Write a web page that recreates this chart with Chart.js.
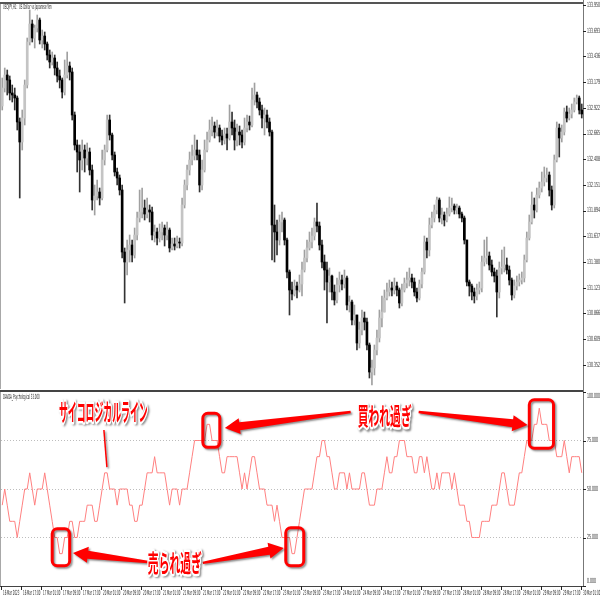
<!DOCTYPE html>
<html>
<head>
<meta charset="utf-8">
<script src="https://cdn.jsdelivr.net/npm/chart.js@4.4.0/dist/chart.umd.min.js"></script>
<style>
html, body { margin: 0; padding: 0; background: #fff; }
#wrap { position: relative; width: 600px; height: 600px; overflow: hidden; background: #fff; }
#price { position: absolute; left: 0; top: 0; }
#psy { position: absolute; left: 0; top: 390px; }
</style>
</head>
<body>
<div id="wrap">
    <canvas id="price" width="600" height="390"></canvas>
    <canvas id="psy" width="600" height="210"></canvas>
</div>
<script>
// USDJPY H1, one entry per bar; open of each bar = previous close
var firstOpen = 132.94
var closes = [133.12,133.25,133.20,133.07,133.05,133.02,132.78,132.58,132.82,133.15,
133.58,133.76,133.62,133.72,133.80,133.60,133.64,133.56,133.45,133.38,
133.42,133.32,133.24,133.20,133.08,133.25,133.34,133.28,132.85,132.55,
132.48,132.40,132.50,132.42,132.48,132.30,132.00,132.04,132.08,132.02,
132.40,132.50,132.80,132.65,132.45,132.28,132.22,132.10,131.48,131.38,
131.50,131.55,131.45,131.65,131.82,131.88,131.92,131.86,131.90,131.88,
131.65,131.68,131.62,131.68,131.72,131.65,131.70,131.52,131.56,131.54,
131.58,131.57,131.95,132.15,132.30,132.40,132.44,132.50,132.45,132.15,
132.30,132.50,132.60,132.70,132.74,132.68,132.72,132.64,132.60,132.66,
132.62,132.78,132.72,132.60,132.68,132.65,132.58,132.72,132.78,132.75,
133.00,133.05,132.98,132.90,132.82,132.85,132.78,132.68,131.75,131.68,
131.60,131.78,131.80,131.60,131.28,131.10,131.06,131.14,131.10,131.16,
131.30,131.42,131.52,131.58,131.64,131.78,131.74,131.55,131.38,131.30,
131.18,131.24,131.08,131.00,131.15,131.20,131.16,131.22,130.95,130.98,
130.80,130.85,130.57,130.70,130.82,130.78,130.55,130.28,130.32,130.50,
130.62,130.82,130.88,131.02,131.08,131.12,131.10,131.14,131.10,130.97,
131.10,131.17,131.20,131.22,131.18,131.08,131.02,131.16,131.28,131.58,
131.50,131.75,131.82,131.90,132.00,131.82,131.85,131.80,131.86,131.92,
131.94,131.90,131.92,131.86,131.82,131.60,131.18,131.14,131.08,131.04,
131.10,131.12,131.38,131.42,131.44,131.35,131.28,131.24,131.08,131.32,
131.32,131.35,131.30,131.20,131.05,131.14,131.18,131.20,131.22,131.40,
131.62,131.78,131.95,131.90,132.05,132.12,132.18,132.22,132.25,132.10,
131.95,132.40,132.72,132.62,132.68,132.88,132.82,132.86,132.90,132.98,
133.02,132.90,132.86]
var highs = [133.22,133.32,133.30,133.24,133.15,133.12,133.04,132.82,132.90,133.20,
133.62,133.90,133.80,133.75,133.85,133.82,133.70,133.68,133.58,133.50,
133.48,133.45,133.38,133.30,133.22,133.40,133.48,133.38,133.32,132.88,
132.60,132.55,132.60,132.55,132.57,132.52,132.35,132.15,132.20,132.12,
132.50,132.55,132.85,132.85,132.67,132.48,132.32,132.25,132.15,131.52,
131.60,131.65,131.60,131.72,131.88,132.10,132.12,132.00,132.02,131.95,
131.93,131.75,131.72,131.76,131.78,131.75,131.78,131.72,131.62,131.62,
131.64,131.62,132.02,132.20,132.35,132.48,132.55,132.65,132.60,132.50,
132.40,132.60,132.68,132.80,132.83,132.78,132.80,132.75,132.70,132.72,
132.72,132.95,132.88,132.80,132.76,132.74,132.70,132.82,132.85,132.84,
133.12,133.17,133.08,133.02,132.95,132.92,132.90,132.82,132.70,131.95,
131.80,131.85,131.88,131.82,131.62,131.30,131.18,131.20,131.18,131.25,
131.38,131.50,131.60,131.68,131.72,131.82,131.97,131.78,131.60,131.45,
131.38,131.32,131.25,131.15,131.22,131.28,131.25,131.30,131.24,131.04,
131.00,130.95,130.85,130.78,130.90,130.88,130.82,130.57,130.40,130.55,
130.70,130.90,131.04,131.10,131.17,131.20,131.18,131.22,131.18,131.12,
131.16,131.22,131.28,131.32,131.26,131.22,131.12,131.20,131.32,131.64,
131.62,131.82,131.88,131.95,132.03,132.02,131.92,131.88,131.92,132.03,
132.02,131.96,131.96,131.94,131.88,131.84,131.60,131.20,131.16,131.12,
131.16,131.18,131.44,131.60,131.63,131.48,131.40,131.32,131.30,131.38,
131.50,131.53,131.42,131.34,131.22,131.20,131.24,131.26,131.28,131.45,
131.68,131.85,132.08,132.02,132.12,132.18,132.28,132.33,132.32,132.28,
132.14,132.45,132.78,132.76,132.75,132.92,132.94,132.92,132.96,133.02,
133.05,133.04,132.96]
var lows = [132.90,133.08,133.05,133.00,132.98,132.90,132.70,132.02,132.50,132.75,
133.12,133.55,133.58,133.52,133.68,133.56,133.52,133.50,133.40,133.32,
133.35,133.25,133.18,133.12,133.02,133.05,133.22,133.20,132.80,132.50,
132.28,132.08,132.30,132.28,132.35,132.25,131.90,131.85,132.00,131.95,
132.00,132.35,132.48,132.60,132.40,132.24,132.15,132.05,131.42,130.97,
131.25,131.38,131.38,131.42,131.60,131.78,131.82,131.80,131.82,131.78,
131.60,131.58,131.55,131.58,131.60,131.54,131.60,131.48,131.50,131.50,
131.52,131.52,131.54,131.92,132.10,132.25,132.35,132.40,132.40,132.08,
132.10,132.28,132.48,132.58,132.64,132.62,132.64,132.58,132.55,132.56,
132.50,132.60,132.65,132.50,132.54,132.55,132.52,132.55,132.68,132.70,
132.73,132.95,132.92,132.85,132.72,132.65,132.72,132.64,131.40,131.38,
131.45,131.55,131.68,131.55,131.22,130.85,131.00,131.04,131.02,131.08,
131.04,131.28,131.38,131.50,131.52,131.60,131.68,131.50,131.32,131.10,
130.77,131.08,131.00,130.95,130.97,131.08,131.10,131.12,130.90,130.88,
130.75,130.75,130.50,130.52,130.65,130.70,130.50,130.22,130.15,130.25,
130.45,130.58,130.73,130.94,131.00,131.04,131.04,131.06,131.04,130.92,
130.94,131.08,131.12,131.14,131.12,131.04,130.98,131.00,131.12,131.26,
131.42,131.44,131.72,131.78,131.86,131.78,131.76,131.74,131.78,131.84,
131.88,131.86,131.86,131.82,131.78,131.56,131.14,131.04,131.00,130.97,
131.00,131.06,131.08,131.34,131.36,131.30,131.24,131.18,130.83,131.02,
131.26,131.28,131.26,131.15,131.00,131.02,131.10,131.14,131.16,131.18,
131.38,131.60,131.76,131.82,131.88,132.02,132.08,132.14,132.18,132.04,
131.90,131.92,132.38,132.43,132.58,132.65,132.78,132.80,132.82,132.88,
132.96,132.86,132.82]

// psychological line: rising bars out of the last 12
var psyCount = [5,6,5,4,4,4,3,4,5,6,
6,7,6,5,6,6,6,7,6,5,
4,3,3,2,2,3,3,4,4,3,
3,4,4,4,5,5,5,4,4,5,
6,7,7,6,6,6,5,6,6,6,
6,5,5,4,4,5,5,6,7,7,
7,8,7,7,7,7,6,5,6,6,
6,5,6,6,6,7,8,9,9,9,
9,9,10,10,9,9,9,8,7,7,
8,8,8,8,8,7,6,7,6,7,
8,8,7,6,6,6,5,5,5,4,
5,4,3,3,3,3,2,2,3,4,
5,6,6,6,6,7,8,8,9,9,
8,8,7,6,6,7,7,7,6,7,
6,6,6,6,7,7,6,5,5,5,
6,6,6,7,8,7,7,8,8,9,
9,9,8,8,8,7,7,8,8,7,
8,7,6,6,7,6,7,7,7,7,
6,7,6,5,5,5,4,4,3,3,
3,3,4,4,4,4,5,5,5,6,
7,7,6,5,5,5,6,7,7,8,
9,9,9,10,10,11,10,10,10,9,
9,9,8,8,8,9,8,7,8,8,
8,8,7]
var psyPeriod = 12

var priceTicks = [133.950,133.693,133.436,133.179,132.922,132.665,132.408,132.151,131.894,131.637,131.380,131.123,130.866,130.609,130.352]
var psyTicks = [100, 75, 50, 25, 0]
var timeLabels = ['16 Mar 2023','16 Mar 17:00','17 Mar 01:00','17 Mar 09:00','17 Mar 17:00','20 Mar 01:00','20 Mar 09:00','20 Mar 17:00',
    '21 Mar 01:00','21 Mar 09:00','21 Mar 17:00','22 Mar 01:00','22 Mar 09:00','22 Mar 17:00','23 Mar 01:00','23 Mar 09:00',
    '23 Mar 17:00','24 Mar 01:00','24 Mar 09:00','24 Mar 17:00','27 Mar 01:00','27 Mar 09:00','27 Mar 17:00','28 Mar 01:00',
    '28 Mar 09:00','28 Mar 17:00','29 Mar 01:00','29 Mar 09:00','29 Mar 17:00','30 Mar 01:00']
var barsPerLabel = 8

// callouts, in bar index / indicator value units
var boxes = [[80.3, 87.1, 89, 71.5], [211, 220.7, 96, 71], [20, 27, 29.5, 10.5], [113.5, 120.7, 30, 10.5]]
var arrows = [[139.5, 89.7, 89.1, 81.4], [166.7, 89.7, 210.3, 83], [58.3, 12.4, 28.3, 17], [80.3, 11.9, 112.7, 19.6]]
var notes = [['サイコロジカルライン', 22.7, 90, 0.37], ['買われ過ぎ', 142.3, 87.5, 0.45], ['売られ過ぎ', 58.3, 12, 0.45]]
var pointer = [40.7, 80.4, 41.9, 61.3]

var n = closes.length
var opens = closes.map((c, i) => i == 0 ? firstOpen : closes[i - 1])
var rising = closes.map((c, i) => c >= opens[i])

function tiny(ctx, s, x, y, sx, align) {
    ctx.save()
    ctx.translate(x, y)
    ctx.scale(sx, 1)
    ctx.textAlign = align || 'left'
    ctx.textBaseline = 'middle'
    ctx.fillText(s, 0, 0)
    ctx.restore()
}

function fixWidth(scale) { scale.width = 17 }

function xOpts() {
    return { type: 'linear', min: -0.5, max: n - 0.5, offset: false, display: false }
}

var topFrame = {
    id: 'topFrame',
    afterDraw(chart) {
        var ctx = chart.ctx, a = chart.chartArea, y = chart.scales.y
        ctx.save()
        ctx.fillStyle = '#555'
        ctx.fillRect(0, 2, a.right, 2)
        ctx.fillStyle = '#a8a8a8'
        ctx.fillRect(0, a.top, 1, a.bottom - a.top)
        ctx.fillStyle = '#777'
        ctx.fillRect(a.right, 0, 1, chart.height)
        ctx.fillStyle = '#222'
        ctx.font = '7px "DejaVu Sans"'
        priceTicks.forEach(v => {
            var py = y.getPixelForValue(v)
            ctx.fillRect(a.right, Math.round(py), 3, 1)
            tiny(ctx, v.toFixed(3), a.right + 4, py, 0.45)
        })
        tiny(ctx, 'USDJPY,H1:  US Dollar vs Japanese Yen', 3, 7, 0.36)
        ctx.restore()
    }
}

new Chart(document.getElementById('price'), {
    type: 'bar',
    data: {
        datasets: [
            {
                label: 'body',
                order: 0,
                grouped: false,
                barThickness: 2,
                minBarLength: 1,
                data: closes.map((c, i) => ({ x: i, y: [opens[i], c] })),
                backgroundColor: rising.map(r => r ? '#c4c4c4' : '#000'),
                borderWidth: 0
            },
            {
                label: 'wick',
                order: 1,
                grouped: false,
                barThickness: 1,
                data: highs.map((h, i) => ({ x: i, y: [Math.min(lows[i], opens[i], closes[i]), Math.max(h, opens[i], closes[i])] })),
                backgroundColor: rising.map(r => r ? '#a0a0a0' : '#333'),
                borderWidth: 0
            }
        ]
    },
    options: {
        responsive: false,
        animation: false,
        events: [],
        layout: { padding: { top: 4, left: 1, bottom: 1, right: 0 } },
        plugins: { legend: { display: false }, tooltip: { enabled: false } },
        scales: {
            x: xOpts(),
            y: {
                position: 'right',
                min: 130.11,
                max: 133.96,
                afterFit: fixWidth,
                grid: { display: false },
                border: { display: false },
                ticks: { display: false }
            }
        }
    },
    plugins: [topFrame]
})

function arrowShape(ctx, x1, y1, x2, y2) {
    var dx = x2 - x1, dy = y2 - y1
    var len = Math.sqrt(dx * dx + dy * dy)
    var head = 15
    ctx.save()
    ctx.translate(x1, y1)
    ctx.rotate(Math.atan2(dy, dx))
    ctx.beginPath()
    ctx.moveTo(0, -1.2)
    ctx.lineTo(len - head, -4)
    ctx.lineTo(len - head, -8)
    ctx.lineTo(len, 0)
    ctx.lineTo(len - head, 8)
    ctx.lineTo(len - head, 4)
    ctx.lineTo(0, 1.2)
    ctx.closePath()
    ctx.fill()
    ctx.restore()
}

var bottomFrame = {
    id: 'bottomFrame',
    afterDraw(chart) {
        var ctx = chart.ctx, a = chart.chartArea, x = chart.scales.x, y = chart.scales.y
        ctx.save()
        ctx.fillStyle = '#444'
        ctx.fillRect(0, 0, a.right, 2)
        ctx.fillRect(0, a.bottom, a.right + 1, 1)
        ctx.fillStyle = '#a8a8a8'
        ctx.fillRect(0, a.top, 1, a.bottom - a.top)
        ctx.fillStyle = '#777'
        ctx.fillRect(a.right, 0, 1, a.bottom)
        ctx.fillStyle = '#222'
        ctx.font = '7px "DejaVu Sans"'
        psyTicks.forEach(v => {
            var py = y.getPixelForValue(v)
            ctx.fillRect(a.right, Math.round(py), 3, 1)
            var ty = Math.min(Math.max(py, a.top + 4), a.bottom - 5)
            tiny(ctx, v.toFixed(3), a.right + 4, ty, 0.45)
        })
        timeLabels.forEach((s, k) => {
            var px = Math.round(x.getPixelForValue(k * barsPerLabel - 0.5))
            ctx.fillRect(px, a.bottom, 1, 4)
            tiny(ctx, s, px + 2, a.bottom + 7, 0.37)
        })
        tiny(ctx, 'DAVDA_Psychological 33.000', 3, 7, 0.36)

        // callouts
        var X = v => x.getPixelForValue(v), Y = v => y.getPixelForValue(v)
        ctx.shadowColor = 'rgba(0,0,0,0.45)'
        ctx.shadowBlur = 2
        ctx.shadowOffsetX = 1.5
        ctx.shadowOffsetY = 1.5
        ctx.strokeStyle = '#ff0000'
        ctx.lineWidth = 3
        boxes.forEach(b => {
            ctx.beginPath()
            ctx.roundRect(X(b[0]), Y(b[2]), X(b[1]) - X(b[0]), Y(b[3]) - Y(b[2]), 5)
            ctx.stroke()
        })
        ctx.fillStyle = '#ff0000'
        arrows.forEach(r => arrowShape(ctx, X(r[0]), Y(r[1]), X(r[2]), Y(r[3])))
        ctx.lineWidth = 1.5
        ctx.beginPath()
        ctx.moveTo(X(pointer[0]), Y(pointer[1]))
        ctx.lineTo(X(pointer[2]), Y(pointer[3]))
        ctx.stroke()

        ctx.font = 'bold 24px "Noto Sans CJK JP"'
        notes.forEach(t => {
            ctx.save()
            ctx.translate(X(t[1]), Y(t[2]))
            ctx.scale(t[3], 1)
            ctx.textAlign = 'left'
            ctx.textBaseline = 'middle'
            ctx.strokeStyle = '#fff'
            ctx.lineWidth = 5
            ctx.lineJoin = 'round'
            ctx.strokeText(t[0], 0, 0)
            ctx.shadowColor = 'transparent'
            ctx.fillStyle = '#ff0000'
            ctx.fillText(t[0], 0, 0)
            ctx.restore()
        })
        ctx.restore()
    }
}

new Chart(document.getElementById('psy'), {
    type: 'line',
    data: {
        datasets: [
            {
                label: 'Psychological',
                data: psyCount.map((c, i) => ({ x: i, y: c * 100 / psyPeriod })),
                borderColor: '#ff8080',
                borderWidth: 1,
                pointRadius: 0,
                tension: 0
            }
        ]
    },
    options: {
        responsive: false,
        animation: false,
        events: [],
        layout: { padding: { top: 2, left: 1, bottom: 14, right: 0 } },
        plugins: { legend: { display: false }, tooltip: { enabled: false } },
        scales: {
            x: xOpts(),
            y: {
                position: 'right',
                min: 0,
                max: 100,
                afterFit: fixWidth,
                afterBuildTicks(scale) { scale.ticks = psyTicks.map(v => ({ value: v })) },
                grid: {
                    color: c => (c.tick && c.tick.value > 0 && c.tick.value < 100) ? '#bdbdbd' : 'rgba(0,0,0,0)',
                    lineWidth: 1,
                    drawTicks: false
                },
                border: { display: false, dash: [1, 2] },
                ticks: { display: false }
            }
        }
    },
    plugins: [bottomFrame]
})
</script>
</body>
</html>
